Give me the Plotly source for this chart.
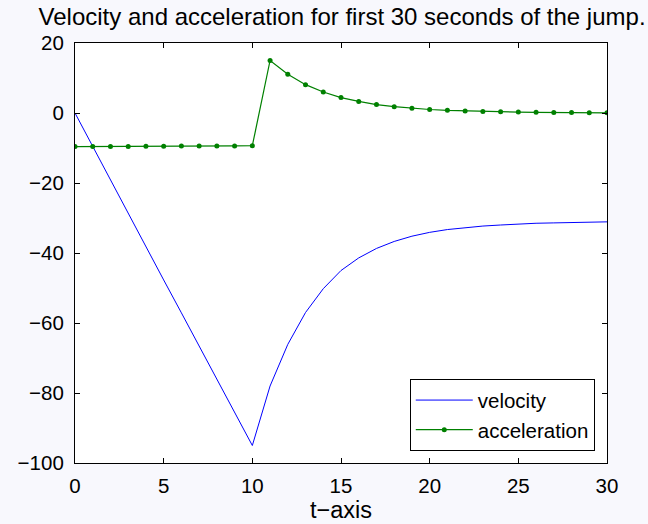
import plotly.graph_objects as go

t = list(range(0, 31))
velocity = [0, -9.6, -19.2, -28.7, -38.2, -47.7, -57.1, -66.5, -75.9, -85.3, -95.0,
            -78.0, -66.1, -57.0, -50.2, -45.0, -41.4, -38.7, -36.7, -35.2, -34.1,
            -33.3, -32.7, -32.3, -32.0, -31.7, -31.5, -31.4, -31.3, -31.2, -31.1]
acceleration = [-9.6, -9.6, -9.55, -9.55, -9.5, -9.5, -9.45, -9.45, -9.4, -9.4, -9.35,
                15.0, 11.1, 8.1, 6.0, 4.4, 3.3, 2.4, 1.8, 1.35, 1.0,
                0.76, 0.6, 0.46, 0.35, 0.26, 0.2, 0.15, 0.11, 0.08, 0.06]
x_ticks = [0, 5, 10, 15, 20, 25, 30]
y_ticks = [20, 0, -20, -40, -60, -80, -100]

font = "Liberation Sans, Arial, Helvetica, sans-serif"

fig = go.Figure()
fig.add_trace(go.Scatter(x=t, y=velocity, mode="lines", name="velocity",
                         line=dict(color="#0000ff", width=1)))
fig.add_trace(go.Scatter(x=t, y=acceleration, mode="lines+markers", name="acceleration",
                         line=dict(color="#008000", width=1.2),
                         marker=dict(color="#008000", size=5)))

axis_common = dict(showline=True, linecolor="black", linewidth=1.2, mirror="ticks",
                   ticks="inside", ticklen=5, tickcolor="black", tickwidth=1,
                   showgrid=False, zeroline=False,
                   tickfont=dict(family=font, size=20.5, color="black"))

fig.update_xaxes(range=[0, 30], tickvals=x_ticks, ticklabelstandoff=4, **axis_common,
                 title=dict(text="t\u2212axis", font=dict(family=font, size=23.5, color="black"),
                            standoff=0))
fig.update_yaxes(range=[-100, 20], tickvals=y_ticks, ticklabelstandoff=6, **axis_common)

fig.update_layout(
    width=648, height=524,
    margin=dict(l=75, r=41, t=43, b=61),
    paper_bgcolor="#f8f8fd",
    plot_bgcolor="white",
    title=dict(text="Velocity and acceleration for first 30 seconds of the jump.",
               font=dict(family=font, size=24, color="black"),
               xref="paper", x=0.502, xanchor="center",
               yref="container", y=1 - 17 / 524, yanchor="middle"),
    legend=dict(x=0.977, xanchor="right", y=0.028, yanchor="bottom",
                bgcolor="white", bordercolor="black", borderwidth=1,
                font=dict(family=font, size=20.5, color="black"),
                tracegroupgap=0, itemwidth=57),
    showlegend=True,
)

fig.write_html("out.html", config={"displayModeBar": False},
               post_script="document.body.style.margin='0';")
